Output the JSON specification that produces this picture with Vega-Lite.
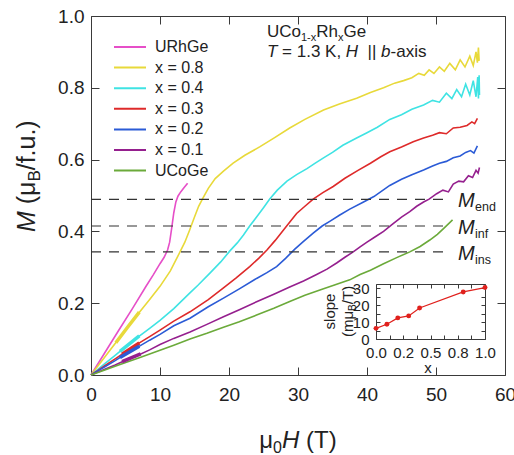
{
  "$schema": "https://vega.github.io/schema/vega-lite/v6.json",
  "width": 414,
  "height": 359,
  "autosize": {"type": "none"},
  "padding": {"left": 91, "top": 16, "right": 9, "bottom": 80},
  "background": "white",
  "config": {
    "view": {"stroke": null},
    "font": "Liberation Sans",
    "text": {"font": "Liberation Sans", "color": "#222"},
    "axis": {"grid": false, "domainColor": "#3a3a3a", "tickColor": "#3a3a3a", "labelColor": "#222", "labelFont": "Liberation Sans", "labelFlush": false, "labelOverlap": false}
  },
  "datasets": {
    "curves": [
      {"series": "URhGe", "H": 0, "M": 0}, {"series": "URhGe", "H": 2, "M": 0.062}, {"series": "URhGe", "H": 4, "M": 0.124}, {"series": "URhGe", "H": 6, "M": 0.185}, {"series": "URhGe", "H": 8, "M": 0.248}, {"series": "URhGe", "H": 9, "M": 0.278}, {"series": "URhGe", "H": 10, "M": 0.31}, {"series": "URhGe", "H": 10.6, "M": 0.328}, {"series": "URhGe", "H": 11.1, "M": 0.348}, {"series": "URhGe", "H": 11.4, "M": 0.37}, {"series": "URhGe", "H": 11.7, "M": 0.41}, {"series": "URhGe", "H": 12.0, "M": 0.452}, {"series": "URhGe", "H": 12.3, "M": 0.482}, {"series": "URhGe", "H": 12.6, "M": 0.498}, {"series": "URhGe", "H": 13.0, "M": 0.51}, {"series": "URhGe", "H": 13.5, "M": 0.522}, {"series": "URhGe", "H": 14.0, "M": 0.534},
      {"series": "x = 0.8", "H": 0, "M": 0}, {"series": "x = 0.8", "H": 1, "M": 0.025}, {"series": "x = 0.8", "H": 2, "M": 0.05}, {"series": "x = 0.8", "H": 3.5, "M": 0.088}, {"series": "x = 0.8", "H": 5, "M": 0.125}, {"series": "x = 0.8", "H": 6.9, "M": 0.172}, {"series": "x = 0.8", "H": 8.5, "M": 0.21}, {"series": "x = 0.8", "H": 10, "M": 0.247}, {"series": "x = 0.8", "H": 11.5, "M": 0.29}, {"series": "x = 0.8", "H": 12.7, "M": 0.335}, {"series": "x = 0.8", "H": 13.6, "M": 0.37}, {"series": "x = 0.8", "H": 14.3, "M": 0.404}, {"series": "x = 0.8", "H": 15, "M": 0.44}, {"series": "x = 0.8", "H": 15.6, "M": 0.47}, {"series": "x = 0.8", "H": 16.2, "M": 0.492}, {"series": "x = 0.8", "H": 17, "M": 0.52}, {"series": "x = 0.8", "H": 18, "M": 0.547}, {"series": "x = 0.8", "H": 19.2, "M": 0.568}, {"series": "x = 0.8", "H": 20.6, "M": 0.59}, {"series": "x = 0.8", "H": 22.3, "M": 0.612}, {"series": "x = 0.8", "H": 24.5, "M": 0.636}, {"series": "x = 0.8", "H": 26.5, "M": 0.66}, {"series": "x = 0.8", "H": 28.8, "M": 0.688}, {"series": "x = 0.8", "H": 31, "M": 0.712}, {"series": "x = 0.8", "H": 33.7, "M": 0.738}, {"series": "x = 0.8", "H": 36, "M": 0.755}, {"series": "x = 0.8", "H": 38.5, "M": 0.771}, {"series": "x = 0.8", "H": 40.5, "M": 0.787}, {"series": "x = 0.8", "H": 42.4, "M": 0.8}, {"series": "x = 0.8", "H": 44, "M": 0.813}, {"series": "x = 0.8", "H": 45.3, "M": 0.82}, {"series": "x = 0.8", "H": 46.5, "M": 0.828}, {"series": "x = 0.8", "H": 47.5, "M": 0.84}, {"series": "x = 0.8", "H": 48.3, "M": 0.835}, {"series": "x = 0.8", "H": 49, "M": 0.85}, {"series": "x = 0.8", "H": 49.7, "M": 0.84}, {"series": "x = 0.8", "H": 50.5, "M": 0.858}, {"series": "x = 0.8", "H": 51.2, "M": 0.846}, {"series": "x = 0.8", "H": 52, "M": 0.868}, {"series": "x = 0.8", "H": 52.8, "M": 0.85}, {"series": "x = 0.8", "H": 53.5, "M": 0.878}, {"series": "x = 0.8", "H": 54.2, "M": 0.858}, {"series": "x = 0.8", "H": 54.9, "M": 0.888}, {"series": "x = 0.8", "H": 55.4, "M": 0.862}, {"series": "x = 0.8", "H": 55.8, "M": 0.9}, {"series": "x = 0.8", "H": 56.0, "M": 0.87}, {"series": "x = 0.8", "H": 56.15, "M": 0.912}, {"series": "x = 0.8", "H": 56.25, "M": 0.875},
      {"series": "x = 0.4", "H": 0, "M": 0}, {"series": "x = 0.4", "H": 1, "M": 0.016}, {"series": "x = 0.4", "H": 2, "M": 0.032}, {"series": "x = 0.4", "H": 3.5, "M": 0.055}, {"series": "x = 0.4", "H": 5, "M": 0.078}, {"series": "x = 0.4", "H": 6.9, "M": 0.107}, {"series": "x = 0.4", "H": 8.5, "M": 0.13}, {"series": "x = 0.4", "H": 10, "M": 0.152}, {"series": "x = 0.4", "H": 12, "M": 0.185}, {"series": "x = 0.4", "H": 14.3, "M": 0.228}, {"series": "x = 0.4", "H": 15.5, "M": 0.25}, {"series": "x = 0.4", "H": 17.2, "M": 0.283}, {"series": "x = 0.4", "H": 18.8, "M": 0.315}, {"series": "x = 0.4", "H": 20.1, "M": 0.345}, {"series": "x = 0.4", "H": 21.2, "M": 0.368}, {"series": "x = 0.4", "H": 22.1, "M": 0.39}, {"series": "x = 0.4", "H": 23, "M": 0.415}, {"series": "x = 0.4", "H": 24, "M": 0.44}, {"series": "x = 0.4", "H": 25, "M": 0.466}, {"series": "x = 0.4", "H": 25.9, "M": 0.49}, {"series": "x = 0.4", "H": 27, "M": 0.515}, {"series": "x = 0.4", "H": 28.4, "M": 0.54}, {"series": "x = 0.4", "H": 29.8, "M": 0.558}, {"series": "x = 0.4", "H": 31.3, "M": 0.575}, {"series": "x = 0.4", "H": 32.5, "M": 0.59}, {"series": "x = 0.4", "H": 33.7, "M": 0.605}, {"series": "x = 0.4", "H": 35, "M": 0.62}, {"series": "x = 0.4", "H": 36.5, "M": 0.64}, {"series": "x = 0.4", "H": 38.5, "M": 0.66}, {"series": "x = 0.4", "H": 40, "M": 0.675}, {"series": "x = 0.4", "H": 41.5, "M": 0.69}, {"series": "x = 0.4", "H": 43.3, "M": 0.712}, {"series": "x = 0.4", "H": 45, "M": 0.725}, {"series": "x = 0.4", "H": 46.5, "M": 0.74}, {"series": "x = 0.4", "H": 48.2, "M": 0.752}, {"series": "x = 0.4", "H": 49.5, "M": 0.765}, {"series": "x = 0.4", "H": 50.5, "M": 0.76}, {"series": "x = 0.4", "H": 51.5, "M": 0.785}, {"series": "x = 0.4", "H": 52.3, "M": 0.77}, {"series": "x = 0.4", "H": 53, "M": 0.795}, {"series": "x = 0.4", "H": 53.7, "M": 0.775}, {"series": "x = 0.4", "H": 54.3, "M": 0.81}, {"series": "x = 0.4", "H": 54.9, "M": 0.78}, {"series": "x = 0.4", "H": 55.4, "M": 0.82}, {"series": "x = 0.4", "H": 55.8, "M": 0.775}, {"series": "x = 0.4", "H": 56.05, "M": 0.83}, {"series": "x = 0.4", "H": 56.15, "M": 0.77}, {"series": "x = 0.4", "H": 56.25, "M": 0.835}, {"series": "x = 0.4", "H": 56.3, "M": 0.78},
      {"series": "x = 0.3", "H": 0, "M": 0}, {"series": "x = 0.3", "H": 1, "M": 0.013}, {"series": "x = 0.3", "H": 2, "M": 0.026}, {"series": "x = 0.3", "H": 3.5, "M": 0.045}, {"series": "x = 0.3", "H": 5, "M": 0.064}, {"series": "x = 0.3", "H": 6.9, "M": 0.088}, {"series": "x = 0.3", "H": 8.5, "M": 0.107}, {"series": "x = 0.3", "H": 10, "M": 0.125}, {"series": "x = 0.3", "H": 12, "M": 0.15}, {"series": "x = 0.3", "H": 14.35, "M": 0.176}, {"series": "x = 0.3", "H": 17, "M": 0.21}, {"series": "x = 0.3", "H": 19.2, "M": 0.243}, {"series": "x = 0.3", "H": 21, "M": 0.27}, {"series": "x = 0.3", "H": 23, "M": 0.302}, {"series": "x = 0.3", "H": 24.3, "M": 0.325}, {"series": "x = 0.3", "H": 25.5, "M": 0.348}, {"series": "x = 0.3", "H": 26.7, "M": 0.375}, {"series": "x = 0.3", "H": 27.9, "M": 0.404}, {"series": "x = 0.3", "H": 28.9, "M": 0.428}, {"series": "x = 0.3", "H": 29.8, "M": 0.45}, {"series": "x = 0.3", "H": 31, "M": 0.47}, {"series": "x = 0.3", "H": 32.2, "M": 0.49}, {"series": "x = 0.3", "H": 33.6, "M": 0.508}, {"series": "x = 0.3", "H": 35.1, "M": 0.525}, {"series": "x = 0.3", "H": 36.8, "M": 0.548}, {"series": "x = 0.3", "H": 38.7, "M": 0.57}, {"series": "x = 0.3", "H": 40.5, "M": 0.59}, {"series": "x = 0.3", "H": 42, "M": 0.608}, {"series": "x = 0.3", "H": 43.3, "M": 0.622}, {"series": "x = 0.3", "H": 45, "M": 0.635}, {"series": "x = 0.3", "H": 46.7, "M": 0.65}, {"series": "x = 0.3", "H": 48.2, "M": 0.66}, {"series": "x = 0.3", "H": 49.5, "M": 0.668}, {"series": "x = 0.3", "H": 50.5, "M": 0.675}, {"series": "x = 0.3", "H": 51.5, "M": 0.672}, {"series": "x = 0.3", "H": 52.5, "M": 0.688}, {"series": "x = 0.3", "H": 53.5, "M": 0.69}, {"series": "x = 0.3", "H": 54.5, "M": 0.695}, {"series": "x = 0.3", "H": 55.2, "M": 0.705}, {"series": "x = 0.3", "H": 55.6, "M": 0.7}, {"series": "x = 0.3", "H": 56.0, "M": 0.715},
      {"series": "x = 0.2", "H": 0, "M": 0}, {"series": "x = 0.2", "H": 1, "M": 0.0115}, {"series": "x = 0.2", "H": 2, "M": 0.023}, {"series": "x = 0.2", "H": 3.5, "M": 0.04}, {"series": "x = 0.2", "H": 5, "M": 0.058}, {"series": "x = 0.2", "H": 6.9, "M": 0.079}, {"series": "x = 0.2", "H": 8.5, "M": 0.097}, {"series": "x = 0.2", "H": 10, "M": 0.113}, {"series": "x = 0.2", "H": 12, "M": 0.137}, {"series": "x = 0.2", "H": 14.35, "M": 0.158}, {"series": "x = 0.2", "H": 17, "M": 0.19}, {"series": "x = 0.2", "H": 19.2, "M": 0.214}, {"series": "x = 0.2", "H": 21.5, "M": 0.24}, {"series": "x = 0.2", "H": 24, "M": 0.269}, {"series": "x = 0.2", "H": 25.5, "M": 0.285}, {"series": "x = 0.2", "H": 26.9, "M": 0.302}, {"series": "x = 0.2", "H": 28.2, "M": 0.325}, {"series": "x = 0.2", "H": 29.5, "M": 0.35}, {"series": "x = 0.2", "H": 30.8, "M": 0.372}, {"series": "x = 0.2", "H": 32.2, "M": 0.395}, {"series": "x = 0.2", "H": 33.5, "M": 0.415}, {"series": "x = 0.2", "H": 34.6, "M": 0.428}, {"series": "x = 0.2", "H": 36, "M": 0.445}, {"series": "x = 0.2", "H": 37.5, "M": 0.462}, {"series": "x = 0.2", "H": 39.5, "M": 0.482}, {"series": "x = 0.2", "H": 41, "M": 0.497}, {"series": "x = 0.2", "H": 43.3, "M": 0.528}, {"series": "x = 0.2", "H": 45, "M": 0.545}, {"series": "x = 0.2", "H": 46.5, "M": 0.558}, {"series": "x = 0.2", "H": 48.2, "M": 0.571}, {"series": "x = 0.2", "H": 49.5, "M": 0.582}, {"series": "x = 0.2", "H": 50.5, "M": 0.59}, {"series": "x = 0.2", "H": 51.5, "M": 0.595}, {"series": "x = 0.2", "H": 52.5, "M": 0.605}, {"series": "x = 0.2", "H": 53.5, "M": 0.61}, {"series": "x = 0.2", "H": 54.3, "M": 0.62}, {"series": "x = 0.2", "H": 55, "M": 0.625}, {"series": "x = 0.2", "H": 55.5, "M": 0.618}, {"series": "x = 0.2", "H": 56, "M": 0.638},
      {"series": "x = 0.1", "H": 0, "M": 0}, {"series": "x = 0.1", "H": 1, "M": 0.008}, {"series": "x = 0.1", "H": 2, "M": 0.016}, {"series": "x = 0.1", "H": 3.5, "M": 0.028}, {"series": "x = 0.1", "H": 5, "M": 0.041}, {"series": "x = 0.1", "H": 6.9, "M": 0.056}, {"series": "x = 0.1", "H": 8.5, "M": 0.07}, {"series": "x = 0.1", "H": 10, "M": 0.085}, {"series": "x = 0.1", "H": 12, "M": 0.102}, {"series": "x = 0.1", "H": 14.35, "M": 0.12}, {"series": "x = 0.1", "H": 16.8, "M": 0.141}, {"series": "x = 0.1", "H": 19.2, "M": 0.162}, {"series": "x = 0.1", "H": 21.5, "M": 0.182}, {"series": "x = 0.1", "H": 24, "M": 0.204}, {"series": "x = 0.1", "H": 26.5, "M": 0.225}, {"series": "x = 0.1", "H": 28.8, "M": 0.245}, {"series": "x = 0.1", "H": 30.8, "M": 0.262}, {"series": "x = 0.1", "H": 32.7, "M": 0.28}, {"series": "x = 0.1", "H": 34.2, "M": 0.295}, {"series": "x = 0.1", "H": 35.6, "M": 0.312}, {"series": "x = 0.1", "H": 36.8, "M": 0.328}, {"series": "x = 0.1", "H": 38, "M": 0.343}, {"series": "x = 0.1", "H": 39, "M": 0.357}, {"series": "x = 0.1", "H": 40, "M": 0.37}, {"series": "x = 0.1", "H": 41.2, "M": 0.385}, {"series": "x = 0.1", "H": 42.4, "M": 0.4}, {"series": "x = 0.1", "H": 43.7, "M": 0.42}, {"series": "x = 0.1", "H": 45, "M": 0.44}, {"series": "x = 0.1", "H": 46.2, "M": 0.455}, {"series": "x = 0.1", "H": 47.2, "M": 0.47}, {"series": "x = 0.1", "H": 48.2, "M": 0.482}, {"series": "x = 0.1", "H": 49, "M": 0.49}, {"series": "x = 0.1", "H": 50.1, "M": 0.505}, {"series": "x = 0.1", "H": 51, "M": 0.515}, {"series": "x = 0.1", "H": 51.8, "M": 0.51}, {"series": "x = 0.1", "H": 52.5, "M": 0.532}, {"series": "x = 0.1", "H": 53.3, "M": 0.54}, {"series": "x = 0.1", "H": 54, "M": 0.538}, {"series": "x = 0.1", "H": 54.7, "M": 0.555}, {"series": "x = 0.1", "H": 55.3, "M": 0.55}, {"series": "x = 0.1", "H": 55.8, "M": 0.57}, {"series": "x = 0.1", "H": 56.1, "M": 0.562}, {"series": "x = 0.1", "H": 56.3, "M": 0.578},
      {"series": "UCoGe", "H": 0, "M": 0}, {"series": "UCoGe", "H": 2, "M": 0.014}, {"series": "UCoGe", "H": 4, "M": 0.028}, {"series": "UCoGe", "H": 7, "M": 0.048}, {"series": "UCoGe", "H": 10, "M": 0.069}, {"series": "UCoGe", "H": 12, "M": 0.083}, {"series": "UCoGe", "H": 14.35, "M": 0.1}, {"series": "UCoGe", "H": 16.8, "M": 0.116}, {"series": "UCoGe", "H": 19.2, "M": 0.133}, {"series": "UCoGe", "H": 21.5, "M": 0.148}, {"series": "UCoGe", "H": 24, "M": 0.167}, {"series": "UCoGe", "H": 26.5, "M": 0.186}, {"series": "UCoGe", "H": 28.8, "M": 0.205}, {"series": "UCoGe", "H": 31, "M": 0.222}, {"series": "UCoGe", "H": 33.7, "M": 0.24}, {"series": "UCoGe", "H": 35.5, "M": 0.252}, {"series": "UCoGe", "H": 37.5, "M": 0.265}, {"series": "UCoGe", "H": 39, "M": 0.28}, {"series": "UCoGe", "H": 40.5, "M": 0.292}, {"series": "UCoGe", "H": 42.4, "M": 0.31}, {"series": "UCoGe", "H": 44.3, "M": 0.327}, {"series": "UCoGe", "H": 46.2, "M": 0.343}, {"series": "UCoGe", "H": 47.7, "M": 0.358}, {"series": "UCoGe", "H": 49.1, "M": 0.376}, {"series": "UCoGe", "H": 50.2, "M": 0.392}, {"series": "UCoGe", "H": 51.2, "M": 0.41}, {"series": "UCoGe", "H": 52.4, "M": 0.432}
    ],
    "thick": [
      {"series": "x = 0.8", "H": 3.6, "M": 0.09}, {"series": "x = 0.8", "H": 5.3, "M": 0.133}, {"series": "x = 0.8", "H": 7.0, "M": 0.175},
      {"series": "x = 0.4", "H": 4.2, "M": 0.066}, {"series": "x = 0.4", "H": 7.0, "M": 0.109},
      {"series": "x = 0.3", "H": 4.5, "M": 0.058}, {"series": "x = 0.3", "H": 7.0, "M": 0.089},
      {"series": "x = 0.2", "H": 4.2, "M": 0.049}, {"series": "x = 0.2", "H": 7.0, "M": 0.08},
      {"series": "x = 0.1", "H": 4.5, "M": 0.037}, {"series": "x = 0.1", "H": 7.2, "M": 0.059}
    ],
    "levels": [
      {"level": "end", "M": 0.489},
      {"level": "inf", "M": 0.415},
      {"level": "ins", "M": 0.343}
    ],
    "slope": [
      {"x": 0.0, "slope": 6.3},
      {"x": 0.1, "slope": 8.7},
      {"x": 0.2, "slope": 12.5},
      {"x": 0.3, "slope": 13.7},
      {"x": 0.4, "slope": 18.4},
      {"x": 0.8, "slope": 27.9},
      {"x": 1.0, "slope": 30.5}
    ]
  },
  "layer": [
    {
      "layer": [
        {
          "data": {"name": "curves"},
          "mark": {"type": "line", "strokeWidth": 1.6, "interpolate": "linear"},
          "encoding": {
            "x": {"field": "H", "type": "quantitative", "scale": {"domain": [0, 60], "nice": false, "zero": false},
                  "axis": {"orient": "bottom", "values": [0, 10, 20, 30, 40, 50, 60], "format": "d", "tickSize": -8, "labelPadding": 18, "labelFontSize": 19, "title": null}},
            "y": {"field": "M", "type": "quantitative", "scale": {"domain": [0, 1], "nice": false},
                  "axis": {"orient": "left", "values": [0, 0.2, 0.4, 0.6, 0.8, 1.0], "format": ".1f", "tickSize": -8, "labelPadding": 15, "labelFontSize": 19, "title": null}},
            "color": {"field": "series", "type": "nominal",
                      "scale": {"domain": ["URhGe", "x = 0.8", "x = 0.4", "x = 0.3", "x = 0.2", "x = 0.1", "UCoGe"],
                                "range": ["#E64FC8", "#E8D93A", "#3FE3E3", "#DE2A2A", "#2B5BD6", "#951F8E", "#6BAA3A"]},
                      "legend": {"orient": "none", "legendX": 22, "legendY": 23, "title": null, "symbolType": "stroke", "symbolSize": 1024, "symbolStrokeWidth": 2, "labelFontSize": 16, "labelFont": "Liberation Sans", "labelColor": "#222", "labelOffset": 8, "clipHeight": 16, "rowPadding": 4.6, "padding": 0, "labelLimit": 200}},
            "detail": {"field": "series"}
          }
        },
        {
          "data": {"name": "thick"},
          "mark": {"type": "line", "strokeWidth": 3.5},
          "encoding": {
            "x": {"field": "H", "type": "quantitative", "axis": {"orient": "top", "values": [0, 10, 20, 30, 40, 50, 60], "tickSize": -8, "labels": false, "title": null}},
            "y": {"field": "M", "type": "quantitative", "axis": {"orient": "right", "values": [0, 0.2, 0.4, 0.6, 0.8, 1.0], "tickSize": -8, "labels": false, "title": null}},
            "color": {"field": "series", "type": "nominal", "legend": null}
          }
        },
        {
          "data": {"name": "levels"},
          "mark": {"type": "rule", "strokeDash": [10, 8], "strokeWidth": 1.2, "color": "#333"},
          "encoding": {
            "y": {"field": "M", "type": "quantitative", "axis": null},
            "x": {"datum": 0, "axis": null},
            "x2": {"datum": 51.4}
          }
        },
        {
          "data": {"name": "levels"},
          "mark": {"type": "text", "align": "left", "baseline": "alphabetic", "fontSize": 20, "fontStyle": "italic", "dy": 8},
          "encoding": {
            "y": {"field": "M", "type": "quantitative", "axis": null},
            "x": {"datum": 53.2, "axis": null},
            "text": {"value": "M"}
          }
        },
        {
          "data": {"name": "levels"},
          "mark": {"type": "text", "align": "left", "baseline": "alphabetic", "fontSize": 12.5, "dx": 17, "dy": 12},
          "encoding": {
            "y": {"field": "M", "type": "quantitative", "axis": null},
            "x": {"datum": 53.2, "axis": null},
            "text": {"field": "level"}
          }
        },
        {
          "data": {"values": [{"s": "UCo"}]},
          "mark": {"type": "text", "align": "left", "baseline": "alphabetic", "fontSize": 17},
          "encoding": {"x": {"datum": 25.5, "axis": null}, "y": {"datum": 0.942, "axis": null}, "text": {"field": "s"}}
        },
        {
          "data": {"values": [{"s": "1-x"}]},
          "mark": {"type": "text", "align": "left", "baseline": "alphabetic", "fontSize": 11, "dx": 34, "dy": 4},
          "encoding": {"x": {"datum": 25.5, "axis": null}, "y": {"datum": 0.942, "axis": null}, "text": {"field": "s"}}
        },
        {
          "data": {"values": [{"s": "Rh"}]},
          "mark": {"type": "text", "align": "left", "baseline": "alphabetic", "fontSize": 17, "dx": 49.3},
          "encoding": {"x": {"datum": 25.5, "axis": null}, "y": {"datum": 0.942, "axis": null}, "text": {"field": "s"}}
        },
        {
          "data": {"values": [{"s": "x"}]},
          "mark": {"type": "text", "align": "left", "baseline": "alphabetic", "fontSize": 11, "dx": 71, "dy": 4},
          "encoding": {"x": {"datum": 25.5, "axis": null}, "y": {"datum": 0.942, "axis": null}, "text": {"field": "s"}}
        },
        {
          "data": {"values": [{"s": "Ge"}]},
          "mark": {"type": "text", "align": "left", "baseline": "alphabetic", "fontSize": 17, "dx": 76.5},
          "encoding": {"x": {"datum": 25.5, "axis": null}, "y": {"datum": 0.942, "axis": null}, "text": {"field": "s"}}
        },
        {
          "data": {"values": [{"s": "T"}]},
          "mark": {"type": "text", "align": "left", "baseline": "alphabetic", "fontSize": 17, "fontStyle": "italic"},
          "encoding": {"x": {"datum": 25.5, "axis": null}, "y": {"datum": 0.885, "axis": null}, "text": {"field": "s"}}
        },
        {
          "data": {"values": [{"s": "= 1.3 K,"}]},
          "mark": {"type": "text", "align": "left", "baseline": "alphabetic", "fontSize": 17, "dx": 15.1},
          "encoding": {"x": {"datum": 25.5, "axis": null}, "y": {"datum": 0.885, "axis": null}, "text": {"field": "s"}}
        },
        {
          "data": {"values": [{"s": "H"}]},
          "mark": {"type": "text", "align": "left", "baseline": "alphabetic", "fontSize": 17, "fontStyle": "italic", "dx": 78.9},
          "encoding": {"x": {"datum": 25.5, "axis": null}, "y": {"datum": 0.885, "axis": null}, "text": {"field": "s"}}
        },
        {
          "data": {"values": [{"s": "||"}]},
          "mark": {"type": "text", "align": "left", "baseline": "alphabetic", "fontSize": 17, "dx": 100.6},
          "encoding": {"x": {"datum": 25.5, "axis": null}, "y": {"datum": 0.885, "axis": null}, "text": {"field": "s"}}
        },
        {
          "data": {"values": [{"s": "b"}]},
          "mark": {"type": "text", "align": "left", "baseline": "alphabetic", "fontSize": 17, "fontStyle": "italic", "dx": 114.1},
          "encoding": {"x": {"datum": 25.5, "axis": null}, "y": {"datum": 0.885, "axis": null}, "text": {"field": "s"}}
        },
        {
          "data": {"values": [{"s": "-axis"}]},
          "mark": {"type": "text", "align": "left", "baseline": "alphabetic", "fontSize": 17, "dx": 123.6},
          "encoding": {"x": {"datum": 25.5, "axis": null}, "y": {"datum": 0.885, "axis": null}, "text": {"field": "s"}}
        },
        {
          "data": {"values": [{"s": "μ"}]},
          "mark": {"type": "text", "align": "left", "baseline": "alphabetic", "fontSize": 24, "dx": -38.7},
          "encoding": {"x": {"datum": 30, "axis": null}, "y": {"datum": -0.203, "axis": null}, "text": {"field": "s"}}
        },
        {
          "data": {"values": [{"s": "0"}]},
          "mark": {"type": "text", "align": "left", "baseline": "alphabetic", "fontSize": 16, "dx": -24.9, "dy": 5},
          "encoding": {"x": {"datum": 30, "axis": null}, "y": {"datum": -0.203, "axis": null}, "text": {"field": "s"}}
        },
        {
          "data": {"values": [{"s": "H"}]},
          "mark": {"type": "text", "align": "left", "baseline": "alphabetic", "fontSize": 24, "fontStyle": "italic", "dx": -16},
          "encoding": {"x": {"datum": 30, "axis": null}, "y": {"datum": -0.203, "axis": null}, "text": {"field": "s"}}
        },
        {
          "data": {"values": [{"s": "(T)"}]},
          "mark": {"type": "text", "align": "left", "baseline": "alphabetic", "fontSize": 24, "dx": 8},
          "encoding": {"x": {"datum": 30, "axis": null}, "y": {"datum": -0.203, "axis": null}, "text": {"field": "s"}}
        },
        {
          "data": {"values": [{"s": "M"}]},
          "mark": {"type": "text", "align": "left", "baseline": "alphabetic", "fontSize": 25, "fontStyle": "italic", "angle": 270},
          "encoding": {"x": {"datum": -8.12, "axis": null}, "y": {"datum": 0.398, "axis": null}, "text": {"field": "s"}}
        },
        {
          "data": {"values": [{"s": "(μ"}]},
          "mark": {"type": "text", "align": "left", "baseline": "alphabetic", "fontSize": 25, "angle": 270, "dx": 27.8},
          "encoding": {"x": {"datum": -8.12, "axis": null}, "y": {"datum": 0.398, "axis": null}, "text": {"field": "s"}}
        },
        {
          "data": {"values": [{"s": "B"}]},
          "mark": {"type": "text", "align": "left", "baseline": "alphabetic", "fontSize": 17, "angle": 270, "dx": 50.5, "dy": 5},
          "encoding": {"x": {"datum": -8.12, "axis": null}, "y": {"datum": 0.398, "axis": null}, "text": {"field": "s"}}
        },
        {
          "data": {"values": [{"s": "/f.u.)"}]},
          "mark": {"type": "text", "align": "left", "baseline": "alphabetic", "fontSize": 25, "angle": 270, "dx": 61.8},
          "encoding": {"x": {"datum": -8.12, "axis": null}, "y": {"datum": 0.398, "axis": null}, "text": {"field": "s"}}
        }
      ],
      "resolve": {"axis": {"x": "independent", "y": "independent"}}
    },
    {
      "layer": [
        {
          "data": {"name": "slope"},
          "mark": {"type": "line", "color": "#E0201C", "strokeWidth": 1.2},
          "encoding": {
            "x": {"field": "x", "type": "quantitative", "scale": {"domain": [0, 1], "range": [285, 394], "nice": false, "zero": false},
                  "axis": {"orient": "bottom", "offset": -36, "values": [0, 0.125, 0.25, 0.375, 0.5, 0.625, 0.75, 0.875, 1], "tickSize": -4, "labelPadding": 10, "labelFontSize": 15, "title": null,
                           "labelExpr": "datum.value == 0 ? '0.0' : datum.value == 0.25 ? '0.2' : datum.value == 0.5 ? '0.5' : datum.value == 0.75 ? '0.8' : datum.value == 1 ? '1.0' : ''"}},
            "y": {"field": "slope", "type": "quantitative", "scale": {"domain": [0, 32.6], "range": [323, 268], "nice": false, "zero": false},
                  "axis": {"orient": "left", "offset": -285, "values": [0, 5, 10, 15, 20, 25, 30], "tickSize": -4, "labelPadding": 11, "labelFontSize": 15, "title": null,
                           "labelExpr": "datum.value % 10 === 0 ? datum.label : ''"}}
          }
        },
        {
          "data": {"name": "slope"},
          "mark": {"type": "point", "filled": true, "color": "#E0201C", "size": 24, "opacity": 1},
          "encoding": {
            "x": {"field": "x", "type": "quantitative",
                  "axis": {"orient": "top", "offset": -268, "values": [0, 0.125, 0.25, 0.375, 0.5, 0.625, 0.75, 0.875, 1], "tickSize": -4, "labels": false, "title": null}},
            "y": {"field": "slope", "type": "quantitative",
                  "axis": {"orient": "right", "offset": -20, "values": [0, 5, 10, 15, 20, 25, 30], "tickSize": -4, "labels": false, "title": null}}
          }
        },
        {
          "data": {"values": [{"s": "slope"}]},
          "mark": {"type": "text", "align": "center", "baseline": "alphabetic", "fontSize": 15, "angle": 270},
          "encoding": {"x": {"datum": -0.376, "axis": null}, "y": {"datum": 16.3, "axis": null}, "text": {"field": "s"}}
        },
        {
          "data": {"values": [{"s": "(mμ"}]},
          "mark": {"type": "text", "align": "left", "baseline": "alphabetic", "fontSize": 15, "angle": 270},
          "encoding": {"x": {"datum": -0.211, "axis": null}, "y": {"datum": 1.19, "axis": null}, "text": {"field": "s"}}
        },
        {
          "data": {"values": [{"s": "B"}]},
          "mark": {"type": "text", "align": "left", "baseline": "alphabetic", "fontSize": 10, "angle": 270, "dx": 26.1, "dy": 3},
          "encoding": {"x": {"datum": -0.211, "axis": null}, "y": {"datum": 1.19, "axis": null}, "text": {"field": "s"}}
        },
        {
          "data": {"values": [{"s": "/T)"}]},
          "mark": {"type": "text", "align": "left", "baseline": "alphabetic", "fontSize": 15, "angle": 270, "dx": 32.8},
          "encoding": {"x": {"datum": -0.211, "axis": null}, "y": {"datum": 1.19, "axis": null}, "text": {"field": "s"}}
        },
        {
          "data": {"values": [{"s": "x"}]},
          "mark": {"type": "text", "align": "center", "baseline": "middle", "fontSize": 15},
          "encoding": {"x": {"datum": 0.477, "axis": null}, "y": {"datum": -17.2, "axis": null}, "text": {"field": "s"}}
        }
      ],
      "resolve": {"axis": {"x": "independent", "y": "independent"}}
    }
  ],
  "resolve": {"scale": {"x": "independent", "y": "independent"}, "axis": {"x": "independent", "y": "independent"}}
}
